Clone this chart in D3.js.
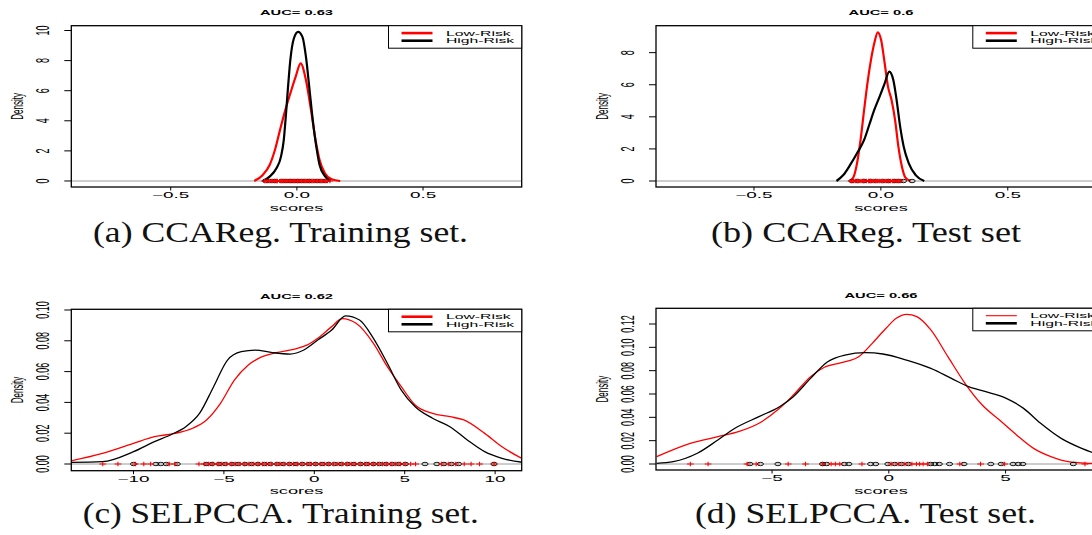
<!DOCTYPE html>
<html>
<head>
<meta charset="utf-8">
<script src="https://cdn.jsdelivr.net/npm/d3@7"></script>
<style>
  html, body { margin: 0; padding: 0; background: #fff; }
  svg { display: block; }
</style>
</head>
<body>
<script>
// ---- Density curves (score, density) and rug scores for each panel ----

// (a) CCAReg, training set
const ccaTrainLow = [[-0.169,0],[-0.135,0.4],[-0.108,1.06],[-0.087,2.06],[-0.067,3.38],[-0.046,4.71],[-0.026,5.82],[-0.005,6.92],[0.015,7.81],[0.036,6.7],[0.056,4.71],[0.074,2.72],[0.09,1.39],[0.111,0.51],[0.138,0.11],[0.172,0]];
const ccaTrainHigh = [[-0.135,0],[-0.108,0.29],[-0.081,0.84],[-0.063,1.62],[-0.052,2.72],[-0.044,4.27],[-0.036,6.04],[-0.026,8.03],[-0.012,9.47],[0.005,9.91],[0.022,9.58],[0.036,8.25],[0.049,6.26],[0.063,4.05],[0.077,2.28],[0.09,1.06],[0.111,0.33],[0.134,0]];
const ccaTrainLowRug = [-0.128,-0.119,-0.114,-0.102,-0.097,-0.088,-0.081,-0.077,-0.066,-0.059,-0.052,-0.047,-0.038,-0.031,-0.024,-0.019,-0.011,-0.004,0.003,0.009,0.016,0.024,0.029,0.037,0.044,0.051,0.058,0.066,0.071,0.079,0.088,0.094,0.103,0.111,0.119,0.131];
const ccaTrainHighRug = [-0.124,-0.108,-0.087,-0.061,-0.043,-0.027,-0.012,0.004,0.018,0.033,0.049,0.062,0.081,0.097,0.114];

// (b) CCAReg, test set
const ccaTestLow = [[-0.121,0],[-0.107,0.27],[-0.094,1.1],[-0.08,2.56],[-0.066,4.43],[-0.053,6.09],[-0.039,7.55],[-0.026,8.59],[-0.012,9.27],[0.001,8.79],[0.015,7.34],[0.028,5.88],[0.042,5.05],[0.056,3.8],[0.069,2.14],[0.083,0.89],[0.096,0.23],[0.117,0]];
const ccaTestHigh = [[-0.175,0],[-0.148,0.37],[-0.121,1.0],[-0.094,1.73],[-0.066,2.56],[-0.046,3.49],[-0.026,4.43],[-0.005,5.26],[0.015,6.09],[0.033,6.82],[0.049,6.3],[0.062,5.05],[0.076,3.39],[0.09,2.14],[0.11,1.1],[0.137,0.37],[0.171,0]];
const ccaTestLowRug = [-0.117,-0.109,-0.101,-0.094,-0.088,-0.079,-0.071,-0.066,-0.057,-0.049,-0.043,-0.036,-0.028,-0.021,-0.013,-0.006,0.002,0.009,0.017,0.023,0.031,0.038,0.046,0.053,0.061,0.068,0.076];
const ccaTestHighRug = [-0.114,-0.092,-0.067,-0.041,-0.018,0.007,0.029,0.052,0.071,0.089,0.123];

// (c) SELPCCA, training set
const selTrainLow = [[-13.5,0.0019],[-11.72,0.0069],[-10.0,0.0134],[-8.84,0.0177],[-7.69,0.0199],[-6.73,0.0232],[-5.96,0.0286],[-5.19,0.0394],[-4.42,0.0545],[-3.65,0.0643],[-2.88,0.0697],[-2.12,0.0723],[-1.15,0.0745],[-0.38,0.0773],[0.19,0.0816],[0.96,0.0892],[1.54,0.0944],[2.31,0.0914],[3.27,0.0784],[4.04,0.0632],[4.81,0.0502],[5.58,0.0383],[6.54,0.0329],[7.5,0.0307],[8.27,0.0286],[9.42,0.0199],[10.38,0.0112],[11.63,0.0026]];
const selTrainHigh = [[-13.45,0.001],[-11.72,0.0015],[-10.0,0.008],[-8.84,0.0145],[-7.88,0.0193],[-7.11,0.0242],[-6.34,0.033],[-5.57,0.0502],[-4.8,0.0675],[-4.04,0.0729],[-3.27,0.074],[-2.31,0.0723],[-1.34,0.0714],[-0.58,0.074],[0.19,0.0805],[0.96,0.087],[1.73,0.0962],[2.5,0.0935],[3.27,0.0816],[4.04,0.0654],[4.81,0.048],[5.58,0.0372],[6.54,0.0297],[7.5,0.0242],[8.46,0.0156],[9.42,0.008],[10.38,0.0037],[11.63,0.0009]];
const selTrainLowRug = [-11.7,-10.86,-9.9,-9.43,-9.05,-8.02,-7.72,-6.38,-6.08,-5.85,-5.61,-5.33,-5.12,-4.86,-4.6,-4.37,-4.11,-3.88,-3.62,-3.35,-3.1,-2.87,-2.64,-2.38,-2.11,-1.9,-1.66,-1.4,-1.15,-0.93,-0.68,-0.41,-0.17,0.08,0.33,0.57,0.81,1.06,1.3,1.55,1.8,2.04,2.27,2.53,2.79,3.02,3.26,3.51,3.77,4.0,4.24,4.5,4.76,5.02,5.33,5.6,7.03,7.41,7.82,8.29,8.67,9.14,9.94];
const selTrainHighRug = [-10.0,-8.76,-8.49,-8.19,-7.58,-5.98,-5.66,-5.27,-4.93,-4.55,-4.21,-3.83,-3.47,-3.12,-2.76,-2.43,-2.05,-1.72,-1.37,-1.01,-0.66,-0.28,0.07,0.43,0.79,1.12,1.49,1.84,2.19,2.56,2.9,3.27,3.6,3.96,4.31,4.67,5.04,6.12,6.78,7.17,7.59,7.98,9.94];

// (d) SELPCCA, test set
const selTestLow = [[-9.94,0.0063],[-8.5,0.0177],[-7.32,0.0234],[-6.44,0.0277],[-5.56,0.0349],[-4.68,0.0477],[-4.09,0.0591],[-3.35,0.0748],[-2.76,0.0829],[-2.03,0.0869],[-1.29,0.092],[-0.71,0.1034],[-0.12,0.1163],[0.32,0.1249],[0.76,0.1283],[1.2,0.1263],[1.8,0.1149],[2.53,0.092],[3.26,0.0692],[4.0,0.0506],[4.74,0.0377],[5.47,0.0249],[6.2,0.0134],[6.94,0.0063],[7.68,0.002],[8.56,0.0006],[9.3,0.0002]];
const selTestHigh = [[-9.94,0.0006],[-9.23,0.002],[-8.2,0.0092],[-7.32,0.0206],[-6.59,0.0306],[-5.56,0.0406],[-4.68,0.0491],[-4.09,0.0577],[-3.35,0.0734],[-2.62,0.0877],[-1.88,0.0934],[-1.0,0.0954],[-0.26,0.0943],[0.76,0.0891],[1.8,0.082],[2.68,0.0734],[3.41,0.0663],[4.15,0.062],[5.03,0.0563],[5.77,0.0477],[6.5,0.0349],[7.38,0.022],[8.26,0.0134],[9.3,0.006]];
const selTestLowRug = [-8.5,-7.74,-6.07,-5.68,-4.31,-3.57,-2.84,-2.47,-2.29,-2.1,-1.15,0.1,0.4,0.69,0.99,1.18,1.32,1.47,1.65,3.04,3.93,4.96,8.4];
const selTestHighRug = [-5.95,-5.5,-4.75,-2.84,-2.66,-1.91,-1.71,-0.78,-0.56,-0.04,0.25,0.54,0.84,1.79,1.97,2.16,2.6,3.22,4.37,4.81,5.32,5.54,5.74,7.9];

// Tick values
const ccaXTicks = [-0.5, 0, 0.5];
const ccaTrainYTicks = [0, 2, 4, 6, 8, 10];
const ccaTestYTicks = [0, 2, 4, 6, 8];
const selTrainXTicks = [-10, -5, 0, 5, 10];
const selTestXTicks = [-5, 0, 5];
const selTrainYTicks = [0, 0.02, 0.04, 0.06, 0.08, 0.10];
const selTestYTicks = [0, 0.02, 0.04, 0.06, 0.08, 0.10, 0.12];

// Titles, captions, legend
const aucTitles = ["AUC= 0.63", "AUC= 0.6", "AUC= 0.62", "AUC= 0.66"];
const captions = ["(a) CCAReg. Training set.", "(b) CCAReg. Test set", "(c) SELPCCA. Training set.", "(d) SELPCCA. Test set."];
const legendLabels = ["Low-Risk", "High-Risk"];
const seriesColors = ["#ff0000", "#000000"];

// ---- Drawing ----
const W = 1092, H = 535;
const SANS = "'Liberation Sans', Arial, Helvetica, sans-serif";
const SERIF = "'Liberation Serif', 'Times New Roman', serif";
const minus = s => s.replace(/-/g, "\u2212");

const svg = d3.select("body").append("svg")
  .attr("width", W).attr("height", H)
  .attr("viewBox", `0 0 ${W} ${H}`);
svg.append("rect").attr("width", W).attr("height", H).attr("fill", "#fff");

// text stretched horizontally (the figure is wider than tall)
function stext(g, x, y, str, o) {
  const sx = o.sx || 2.1;
  const t = g.append("text")
    .attr("transform", o.rotate
      ? `translate(${x},${y}) rotate(-90) scale(1,${sx})`
      : `translate(${x},${y}) scale(${sx},1)`)
    .attr("font-family", SANS)
    .attr("font-size", o.size)
    .attr("font-weight", o.weight || "normal")
    .attr("text-anchor", o.anchor || "middle")
    .attr("fill", "#000")
    .text(str);
  return t;
}

const panels = [
  { box: [71.3, 25.7, 521.7, 187], xDom: [-0.894, 0.891], yDom: [-0.4, 10.32],
    low: ccaTrainLow, high: ccaTrainHigh, lowRug: ccaTrainLowRug, highRug: ccaTrainHighRug,
    xTicks: ccaXTicks, xFmt: d3.format(".1f"), yTicks: ccaTrainYTicks, yFmt: d3.format("d"),
    lw: 2.2, legW: [2.6, 2.6], title: aucTitles[0],
    cap: { text: captions[0], x: 93, y: 242, len: 375 } },
  { box: [656, 25.7, 1106, 187], xDom: [-0.886, 0.887], yDom: [-0.374, 9.68],
    low: ccaTestLow, high: ccaTestHigh, lowRug: ccaTestLowRug, highRug: ccaTestHighRug,
    xTicks: ccaXTicks, xFmt: d3.format(".1f"), yTicks: ccaTestYTicks, yFmt: d3.format("d"),
    lw: 2.2, legW: [2.6, 2.6], title: aucTitles[1],
    cap: { text: captions[1], x: 711, y: 242, len: 310 } },
  { box: [71.3, 309.3, 521.7, 470.7], xDom: [-13.44, 11.47], yDom: [-0.00435, 0.10045],
    low: selTrainLow, high: selTrainHigh, lowRug: selTrainLowRug, highRug: selTrainHighRug,
    xTicks: selTrainXTicks, xFmt: d3.format("d"), yTicks: selTrainYTicks, yFmt: d3.format(".2f"),
    lw: 1.3, legW: [2.6, 2.6], title: aucTitles[2],
    cap: { text: captions[2], x: 82.7, y: 523, len: 396 } },
  { box: [656, 308.3, 1106, 470], xDom: [-9.97, 9.30], yDom: [-0.00514, 0.13346],
    low: selTestLow, high: selTestHigh, lowRug: selTestLowRug, highRug: selTestHighRug,
    xTicks: selTestXTicks, xFmt: d3.format("d"), yTicks: selTestYTicks, yFmt: d3.format(".2f"),
    lw: 1.3, legW: [1.1, 2.6], title: aucTitles[3],
    cap: { text: captions[3], x: 694.9, y: 523, len: 341 } }
];

panels.forEach((p, i) => {
  const [x0, y0, x1, y1] = p.box;
  const g = svg.append("g");
  const x = d3.scaleLinear().domain(p.xDom).range([x0, x1]);
  const y = d3.scaleLinear().domain(p.yDom).range([y1, y0]);

  const clipId = "clip" + i;
  g.append("clipPath").attr("id", clipId)
    .append("rect").attr("x", x0).attr("y", y0).attr("width", x1 - x0).attr("height", y1 - y0);
  const plot = g.append("g").attr("clip-path", `url(#${clipId})`);

  // zero line
  plot.append("line")
    .attr("x1", x0).attr("x2", x1).attr("y1", y(0)).attr("y2", y(0))
    .attr("stroke", "#bdbdbd").attr("stroke-width", 1.4);

  // density curves
  const line = d3.line().x(d => x(d[0])).y(d => y(d[1])).curve(d3.curveMonotoneX);
  [p.low, p.high].forEach((s, k) => {
    plot.append("path").attr("d", line(s))
      .attr("fill", "none").attr("stroke", seriesColors[k])
      .attr("stroke-width", p.lw).attr("stroke-linejoin", "round");
  });

  // rug: circles for high-risk, plus signs for low-risk
  plot.append("g").selectAll("ellipse").data(p.highRug).join("ellipse")
    .attr("cx", d => x(d)).attr("cy", y(0)).attr("rx", 3.1).attr("ry", 1.7)
    .attr("fill", "none").attr("stroke", "#000").attr("stroke-width", 0.9);
  plot.append("g").selectAll("path").data(p.lowRug).join("path")
    .attr("d", d => `M${x(d) - 3.4},${y(0)}H${x(d) + 3.4}M${x(d)},${y(0) - 2.2}V${y(0) + 2.2}`)
    .attr("stroke", "#ff0000").attr("stroke-width", 1.1).attr("fill", "none");

  // box
  g.append("rect").attr("x", x0).attr("y", y0).attr("width", x1 - x0).attr("height", y1 - y0)
    .attr("fill", "none").attr("stroke", "#000").attr("stroke-width", 1.3);

  // x axis ticks and labels
  const xa = g.append("g");
  p.xTicks.forEach(v => {
    xa.append("line").attr("x1", x(v)).attr("x2", x(v)).attr("y1", y1).attr("y2", y1 + 3.5)
      .attr("stroke", "#000").attr("stroke-width", 1);
    stext(xa, x(v), y1 + 11.4, minus(p.xFmt(v)), { size: 9 });
  });
  // y axis ticks and labels
  const ya = g.append("g");
  p.yTicks.forEach(v => {
    ya.append("line").attr("x1", x0 - 7).attr("x2", x0).attr("y1", y(v)).attr("y2", y(v))
      .attr("stroke", "#000").attr("stroke-width", 1);
    stext(ya, x0 - 22, y(v), p.yFmt(v), { size: 9, rotate: true });
  });

  // axis titles and main title
  stext(g, (x0 + x1) / 2, y1 + 23.6, "scores", { size: 8.7 });
  stext(g, x0 - 48, (y0 + y1) / 2, "Density", { size: 8, rotate: true, sx: 2.05 });
  stext(g, (x0 + x1) / 2, y0 - 10.5, p.title, { size: 7, weight: "bold" });

  // legend (top right)
  const lx = x1 - 133.2, ly = y0;
  const leg = g.append("g");
  leg.append("rect").attr("x", lx).attr("y", ly).attr("width", 133.2).attr("height", 22.5)
    .attr("fill", "#fff").attr("stroke", "#000").attr("stroke-width", 1);
  legendLabels.forEach((lab, k) => {
    const yy = ly + 7.4 + k * 7.6;
    leg.append("line").attr("x1", lx + 13).attr("x2", lx + 44).attr("y1", yy).attr("y2", yy)
      .attr("stroke", seriesColors[k]).attr("stroke-width", p.legW[k]);
    stext(leg, lx + 57.5, yy + 2.4, lab, { size: 6.7, sx: 2.35, anchor: "start" });
  });

  // caption
  svg.append("text")
    .attr("x", p.cap.x).attr("y", p.cap.y)
    .attr("font-family", SERIF).attr("font-size", 30)
    .attr("textLength", p.cap.len).attr("lengthAdjust", "spacingAndGlyphs")
    .attr("fill", "#111")
    .text(p.cap.text);
});
</script>
</body>
</html>
